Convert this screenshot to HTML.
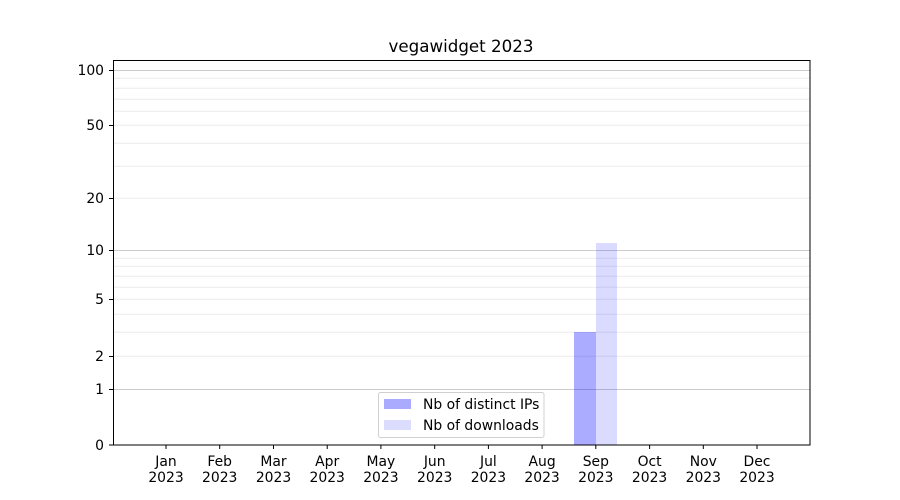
<!DOCTYPE html>
<html><head><meta charset="utf-8"><style>body{margin:0;background:#fff}svg{display:block}text{font-family:"DejaVu Sans","Liberation Sans",sans-serif;font-size:13.9px;fill:#000}</style></head><body>
<svg width="900" height="500" viewBox="0 0 900 500">
<rect width="900" height="500" fill="#fff"/>
<text x="461" y="52" text-anchor="middle" style="font-size:16.7px">vegawidget 2023</text>
<g stroke="#ebebeb" stroke-width="1">
<line x1="113" x2="810" y1="78.3" y2="78.3"/><line x1="113" x2="810" y1="88.3" y2="88.3"/><line x1="113" x2="810" y1="99.3" y2="99.3"/><line x1="113" x2="810" y1="111.3" y2="111.3"/><line x1="113" x2="810" y1="125.3" y2="125.3"/><line x1="113" x2="810" y1="143.3" y2="143.3"/><line x1="113" x2="810" y1="166.3" y2="166.3"/><line x1="113" x2="810" y1="198.3" y2="198.3"/>
<line x1="113" x2="810" y1="258.3" y2="258.3"/><line x1="113" x2="810" y1="266.3" y2="266.3"/><line x1="113" x2="810" y1="276.3" y2="276.3"/><line x1="113" x2="810" y1="287.3" y2="287.3"/><line x1="113" x2="810" y1="299.3" y2="299.3"/><line x1="113" x2="810" y1="314.3" y2="314.3"/><line x1="113" x2="810" y1="332.3" y2="332.3"/><line x1="113" x2="810" y1="356.3" y2="356.3"/>
</g>
<g stroke="#cccccc" stroke-width="1">
<line x1="113" x2="810" y1="70.5" y2="70.5"/><line x1="113" x2="810" y1="250.5" y2="250.5"/><line x1="113" x2="810" y1="389.5" y2="389.5"/>
</g>
<rect x="574" y="332" width="22" height="113" fill="#0000ff" fill-opacity="0.33"/>
<rect x="596" y="243" width="21" height="202" fill="#0000ff" fill-opacity="0.14"/>
<rect x="113.5" y="60.5" width="696.5" height="384.5" fill="none" stroke="#000" stroke-width="1"/>
<g stroke="#000" stroke-width="1">
<line x1="109" x2="113" y1="70.5" y2="70.5"/><line x1="109" x2="113" y1="125.5" y2="125.5"/><line x1="109" x2="113" y1="198.5" y2="198.5"/><line x1="109" x2="113" y1="250.5" y2="250.5"/><line x1="109" x2="113" y1="299.5" y2="299.5"/><line x1="109" x2="113" y1="356.5" y2="356.5"/><line x1="109" x2="113" y1="389.5" y2="389.5"/><line x1="109" x2="113" y1="445" y2="445"/>
</g>
<g text-anchor="end">
<text x="104" y="75">100</text><text x="104" y="130">50</text><text x="104" y="203">20</text><text x="104" y="255">10</text><text x="104" y="304">5</text><text x="104" y="361">2</text><text x="104" y="394">1</text><text x="104" y="450">0</text>
</g>
<g stroke="#000" stroke-width="1">
<line x1="166" x2="166" y1="445" y2="449"/><line x1="219.7" x2="219.7" y1="445" y2="449"/><line x1="273.5" x2="273.5" y1="445" y2="449"/><line x1="327.2" x2="327.2" y1="445" y2="449"/><line x1="380.9" x2="380.9" y1="445" y2="449"/><line x1="434.7" x2="434.7" y1="445" y2="449"/><line x1="488.4" x2="488.4" y1="445" y2="449"/><line x1="542.1" x2="542.1" y1="445" y2="449"/><line x1="595.8" x2="595.8" y1="445" y2="449"/><line x1="649.6" x2="649.6" y1="445" y2="449"/><line x1="703.3" x2="703.3" y1="445" y2="449"/><line x1="757" x2="757" y1="445" y2="449"/>
</g>
<g text-anchor="middle">
<text x="166" y="466">Jan</text><text x="166" y="482">2023</text>
<text x="219.7" y="466">Feb</text><text x="219.7" y="482">2023</text>
<text x="273.5" y="466">Mar</text><text x="273.5" y="482">2023</text>
<text x="327.2" y="466">Apr</text><text x="327.2" y="482">2023</text>
<text x="380.9" y="466">May</text><text x="380.9" y="482">2023</text>
<text x="434.7" y="466">Jun</text><text x="434.7" y="482">2023</text>
<text x="488.4" y="466">Jul</text><text x="488.4" y="482">2023</text>
<text x="542.1" y="466">Aug</text><text x="542.1" y="482">2023</text>
<text x="595.8" y="466">Sep</text><text x="595.8" y="482">2023</text>
<text x="649.6" y="466">Oct</text><text x="649.6" y="482">2023</text>
<text x="703.3" y="466">Nov</text><text x="703.3" y="482">2023</text>
<text x="757" y="466">Dec</text><text x="757" y="482">2023</text>
</g>
<rect x="378.5" y="392.5" width="165.5" height="45" rx="2" fill="#fff" fill-opacity="0.8" stroke="#d0d0d0"/>
<rect x="384" y="399" width="27" height="10" fill="#aaaaff"/>
<rect x="384" y="420" width="27" height="10" fill="#dcdcff"/>
<text x="423" y="409">Nb of distinct IPs</text>
<text x="423" y="430">Nb of downloads</text>
</svg>
</body></html>
